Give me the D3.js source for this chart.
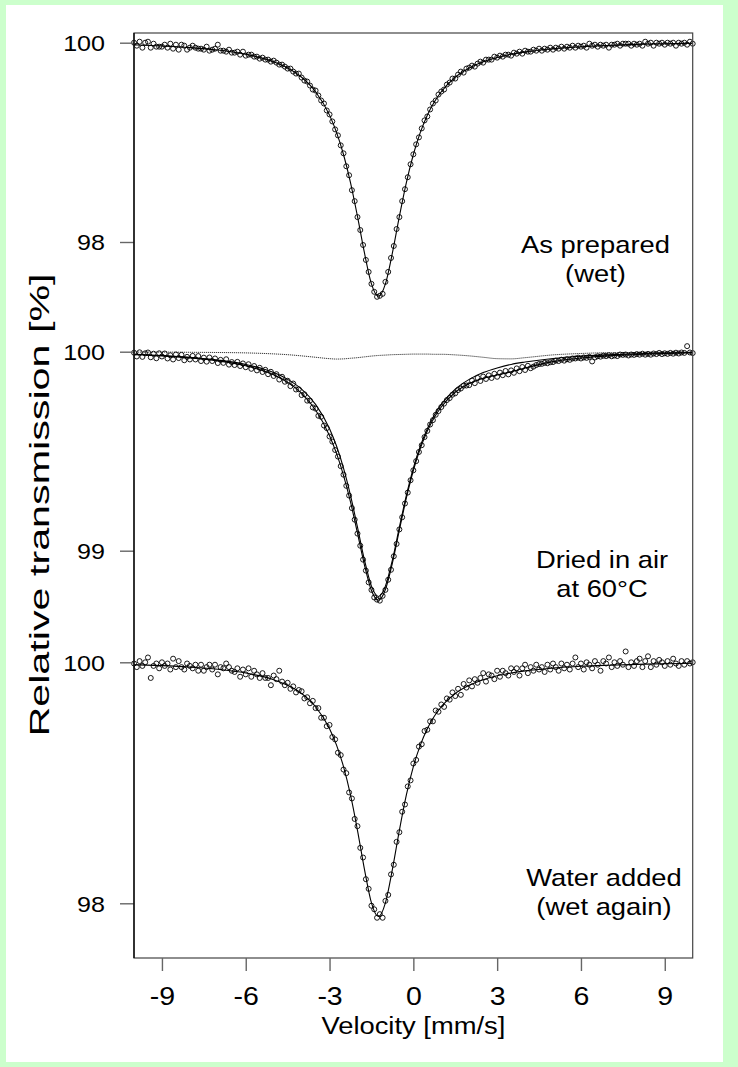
<!DOCTYPE html>
<html>
<head>
<meta charset="utf-8">
<script src="https://cdn.jsdelivr.net/npm/d3@7/dist/d3.min.js"></script>
<style>
  html, body { margin: 0; padding: 0; background: #ccffcc; }
  svg { display: block; }
  text { font-family: "Liberation Sans", Arial, sans-serif; fill: #000; }
</style>
</head>
<body>
<svg id="chart" width="738" height="1067"></svg>
<script>
// ---- Velocity channels (mm/s): -10 ... +10 in 0.1 mm/s steps ----
const velocityStart = -10;
const velocityStep = 0.1;
const channelCount = 201;
const velocity = d3.range(channelCount).map(i => +(velocityStart + i * velocityStep).toFixed(2));

// ---- Measured relative transmission (%) ----
const asPrepared = [
  100.00, 99.97, 100.01, 99.95, 100.00, 100.01, 99.95, 99.99, 99.96, 99.96,
  99.96, 99.98, 99.95, 99.99, 99.94, 99.98, 99.93, 99.98, 99.97, 99.93,
  99.95, 99.97, 99.95, 99.94, 99.94, 99.93, 99.96, 99.92, 99.93, 99.94,
  99.98, 99.92, 99.92, 99.91, 99.93, 99.90, 99.90, 99.91, 99.88, 99.91,
  99.87, 99.88, 99.88, 99.86, 99.86, 99.84, 99.85, 99.83, 99.83, 99.81,
  99.82, 99.80, 99.78, 99.78, 99.76, 99.74, 99.74, 99.71, 99.69, 99.69,
  99.65, 99.62, 99.61, 99.57, 99.53, 99.52, 99.47, 99.42, 99.39, 99.32,
  99.28, 99.21, 99.13, 99.07, 98.97, 98.89, 98.76, 98.67, 98.52, 98.41,
  98.25, 98.12, 97.97, 97.82, 97.70, 97.58, 97.50, 97.45,
  97.46, 97.48, 97.60, 97.70, 97.84, 97.96, 98.13, 98.25, 98.41, 98.53, 98.65, 98.78,
  98.88, 98.98, 99.05, 99.14, 99.22, 99.26, 99.33, 99.39, 99.42, 99.48,
  99.51, 99.53, 99.58, 99.60, 99.64, 99.64, 99.68, 99.71, 99.70, 99.74,
  99.75, 99.77, 99.76, 99.79, 99.81, 99.80, 99.83, 99.83, 99.83, 99.86,
  99.85, 99.87, 99.86, 99.88, 99.88, 99.87, 99.90, 99.89, 99.91, 99.89,
  99.92, 99.91, 99.91, 99.93, 99.92, 99.94, 99.92, 99.94, 99.93, 99.95,
  99.93, 99.95, 99.94, 99.96, 99.94, 99.96, 99.95, 99.97, 99.95, 99.97,
  99.96, 99.97, 99.95, 99.99, 99.97, 99.98, 99.96, 99.98, 99.97, 99.98,
  99.95, 99.98, 99.98, 99.99, 99.97, 99.99, 99.99, 99.99, 99.97, 99.99,
  99.98, 99.99, 99.97, 100.01, 99.99, 100.00, 99.97, 100.00, 99.99, 100.00,
  99.98, 100.00, 99.99, 100.00, 99.97, 100.00, 99.99, 100.00, 99.98, 100.01, 99.99
];

const driedInAir = [
  99.995, 99.976, 99.997, 99.974, 99.992, 99.996, 99.972, 99.990, 99.967, 99.992,
  99.976, 99.991, 99.966, 99.982, 99.961, 99.986, 99.968, 99.984, 99.957, 99.974,
  99.961, 99.979, 99.961, 99.978, 99.953, 99.970, 99.950, 99.971, 99.953, 99.966,
  99.943, 99.959, 99.944, 99.962, 99.935, 99.948, 99.933, 99.949, 99.928, 99.941,
  99.922, 99.937, 99.914, 99.928, 99.906, 99.919, 99.898, 99.909, 99.887, 99.899,
  99.878, 99.887, 99.860, 99.874, 99.849, 99.854, 99.827, 99.840, 99.810, 99.811,
  99.782, 99.786, 99.754, 99.754, 99.720, 99.714, 99.678, 99.673, 99.629, 99.616,
  99.574, 99.548, 99.506, 99.473, 99.425, 99.382, 99.326, 99.277, 99.214, 99.156,
  99.086, 99.025, 98.955, 98.900, 98.841, 98.803, 98.765, 98.754, 98.749, 98.773,
  98.803, 98.854, 98.904, 98.972, 99.034, 99.107, 99.168, 99.237, 99.292, 99.354,
  99.404, 99.450, 99.496, 99.530, 99.571, 99.602, 99.634, 99.656, 99.683, 99.702,
  99.722, 99.739, 99.757, 99.767, 99.784, 99.791, 99.807, 99.815, 99.829, 99.830,
  99.832, 99.855, 99.842, 99.868, 99.853, 99.875, 99.863, 99.881, 99.868, 99.889,
  99.874, 99.895, 99.882, 99.903, 99.886, 99.906, 99.894, 99.916, 99.902, 99.923,
  99.908, 99.929, 99.917, 99.925, 99.933, 99.938, 99.939, 99.944, 99.942, 99.947,
  99.948, 99.955, 99.953, 99.960, 99.955, 99.962, 99.959, 99.966, 99.966, 99.970,
  99.966, 99.971, 99.969, 99.974, 99.951, 99.971, 99.977, 99.975, 99.980, 99.978,
  99.982, 99.977, 99.981, 99.978, 99.986, 99.984, 99.986, 99.981, 99.986, 99.984,
  99.988, 99.985, 99.990, 99.985, 99.989, 99.985, 99.991, 99.988, 99.994, 99.988,
  99.992, 99.989, 99.994, 99.990, 99.995, 99.991, 99.996, 99.994, 100.028, 99.996, 99.993
];

const waterAdded = [
  99.99, 99.96, 100.01, 99.97, 100.00, 100.04, 99.87, 99.97, 99.99, 99.95,
  100.00, 99.97, 99.99, 99.94, 100.03, 99.96, 100.01, 99.96, 99.94, 99.99,
  99.97, 99.95, 99.98, 99.93, 99.98, 99.93, 99.96, 99.98, 99.94, 99.98,
  99.90, 99.96, 99.95, 99.99, 99.96, 99.93, 99.92, 99.95, 99.88, 99.94,
  99.90, 99.95, 99.88, 99.93, 99.90, 99.87, 99.91, 99.87, 99.87, 99.81,
  99.89, 99.86, 99.93, 99.84, 99.81, 99.83, 99.78, 99.80, 99.75, 99.77,
  99.76, 99.70, 99.71, 99.66, 99.68, 99.62, 99.62, 99.54, 99.54, 99.47,
  99.48, 99.38, 99.36, 99.25, 99.23, 99.11, 99.08, 98.92, 98.87, 98.70,
  98.64, 98.46, 98.38, 98.20, 98.12, 97.98, 97.95, 97.88,
  97.91, 97.88, 98.02, 98.07, 98.24, 98.32, 98.51, 98.59, 98.76, 98.82, 98.97, 99.02,
  99.16, 99.19, 99.30, 99.32, 99.43, 99.44, 99.51, 99.51, 99.60, 99.59,
  99.65, 99.63, 99.70, 99.69, 99.75, 99.72, 99.78, 99.73, 99.82, 99.79,
  99.85, 99.80, 99.86, 99.83, 99.87, 99.91, 99.84, 99.90, 99.89, 99.86,
  99.93, 99.88, 99.93, 99.91, 99.89, 99.95, 99.92, 99.95, 99.89, 99.95,
  99.98, 99.91, 99.96, 99.93, 99.98, 99.94, 99.96, 99.92, 99.98, 99.94,
  99.99, 99.96, 99.93, 99.99, 99.95, 99.98, 99.94, 99.99, 100.04, 99.96,
  99.99, 99.94, 100.00, 99.98, 99.95, 100.01, 99.98, 99.93, 100.01, 99.99,
  100.04, 99.96, 100.00, 99.97, 100.01, 99.98, 100.09, 99.96, 100.00, 99.97,
  100.01, 100.03, 99.96, 100.01, 100.05, 99.96, 100.01, 99.98, 100.02, 100.00,
  99.97, 100.01, 99.98, 100.03, 99.99, 99.97, 100.01, 99.98, 100.01, 99.99, 100.00
];

// ---- Fitted curves (%), sampled at these velocities ----
const fitVelocity = [-10, -9, -8, -7, -6, -5, -4.5, -4, -3.5, -3, -2.75, -2.5, -2.25, -2, -1.75, -1.5, -1.25,
  -1, -0.75, -0.5, -0.25, 0, 0.25, 0.5, 0.75, 1, 1.5, 2, 2.5, 3, 3.5, 4, 5, 6, 7, 8, 9, 10];

const asPreparedFit = [99.978, 99.967, 99.951, 99.926, 99.884, 99.809, 99.746, 99.653, 99.508, 99.273, 99.100,
  98.878, 98.596, 98.257, 97.890, 97.580, 97.455, 97.580, 97.890, 98.257, 98.596, 98.878, 99.100, 99.273,
  99.405, 99.508, 99.653, 99.746, 99.809, 99.852, 99.884, 99.908, 99.940, 99.960, 99.973, 99.983, 99.990, 99.995];

const driedTotalFit = [99.985, 99.979, 99.969, 99.954, 99.929, 99.884, 99.846, 99.791, 99.707, 99.578, 99.489,
  99.379, 99.245, 99.088, 98.928, 98.800, 98.751, 98.805, 98.938, 99.104, 99.265, 99.403, 99.514, 99.601,
  99.669, 99.722, 99.796, 99.840, 99.867, 99.883, 99.899, 99.918, 99.950, 99.968, 99.979, 99.986, 99.991, 99.994];

const driedMainSite = [99.987, 99.981, 99.972, 99.958, 99.936, 99.895, 99.861, 99.812, 99.735, 99.613, 99.526,
  99.415, 99.278, 99.118, 98.953, 98.822, 98.770, 98.822, 98.953, 99.118, 99.278, 99.415, 99.526, 99.613,
  99.682, 99.735, 99.812, 99.861, 99.895, 99.918, 99.936, 99.948, 99.966, 99.977, 99.984, 99.990, 99.993, 99.996];

const driedMinorSite = [99.998, 99.998, 99.997, 99.996, 99.994, 99.989, 99.985, 99.979, 99.972, 99.965, 99.963,
  99.964, 99.967, 99.970, 99.974, 99.978, 99.981, 99.983, 99.985, 99.986, 99.987, 99.988, 99.988, 99.988,
  99.987, 99.987, 99.984, 99.979, 99.972, 99.965, 99.964, 99.970, 99.984, 99.991, 99.995, 99.996, 99.997, 99.998];

const waterAddedFit = [99.980, 99.972, 99.960, 99.942, 99.911, 99.856, 99.809, 99.741, 99.631, 99.449, 99.313,
  99.134, 98.899, 98.606, 98.282, 98.004, 97.890, 98.004, 98.282, 98.606, 98.899, 99.134, 99.313, 99.449,
  99.552, 99.631, 99.741, 99.809, 99.856, 99.888, 99.911, 99.929, 99.952, 99.967, 99.976, 99.983, 99.988, 99.992];

// ---- Axis ticks and panel captions ----
const velocityTicks = [-9, -6, -3, 0, 3, 6, 9];
const asPreparedTicks = [98, 100];
const driedTicks = [99, 100];
const waterAddedTicks = [98, 100];
const captions = [["As prepared", "(wet)"], ["Dried in air", "at 60°C"], ["Water added", "(wet again)"]];

// ---- Layout ----
const svg = d3.select("#chart");
const frame = { left: 134, right: 692.7, top: 33, bottom: 958 };
const stretch = 1.14;   // horizontal widening of all lettering
const plainNumber = d => String(d);   // ASCII hyphen for negatives

svg.append("rect").attr("x", 6).attr("y", 5).attr("width", 717).attr("height", 1057).attr("fill", "#fff");

const x = d3.scaleLinear().domain([-10, 10]).range([frame.left, frame.right]);

const panels = [
  { data: asPrepared, fits: [asPreparedFit], ticks: asPreparedTicks, domain: [98, 100], range: [242, 42.7],
    caption: captions[0], capX: 595.5, capY: 253 },
  { data: driedInAir, fits: [driedTotalFit, driedMainSite], minor: driedMinorSite, ticks: driedTicks,
    domain: [99, 100], range: [550.7, 351.7], caption: captions[1], capX: 602, capY: 568 },
  { data: waterAdded, fits: [waterAddedFit], ticks: waterAddedTicks, domain: [98, 100], range: [903.3, 662.3],
    caption: captions[2], capX: 604, capY: 886 }
];

const plot = svg.append("g");

panels.forEach(p => {
  const y = d3.scaleLinear().domain(p.domain).range(p.range);
  const line = d3.line().x(d => x(d[0])).y(d => y(d[1])).curve(d3.curveMonotoneX);

  // minor component drawn as a fine dotted trace near the baseline
  if (p.minor) {
    plot.append("path")
      .datum(fitVelocity.map((v, i) => [v, p.minor[i]]))
      .attr("d", line).attr("fill", "none").attr("stroke", "#222")
      .attr("stroke-width", 0.9).attr("stroke-dasharray", "1.2,0.8");
  }
  p.fits.forEach(f => {
    plot.append("path")
      .datum(fitVelocity.map((v, i) => [v, f[i]]))
      .attr("d", line).attr("fill", "none").attr("stroke", "#000").attr("stroke-width", 1.1);
  });

  plot.append("g").selectAll("circle")
    .data(p.data.map((t, i) => [velocity[i], t]))
    .join("circle")
    .attr("cx", d => x(d[0])).attr("cy", d => y(d[1])).attr("r", 2.5)
    .attr("fill", "none").attr("stroke", "#000").attr("stroke-width", 0.9);

  // y axis for this panel
  const ax = svg.append("g").attr("transform", `translate(${frame.left},0)`)
    .call(d3.axisLeft(y).tickValues(p.ticks).tickSize(14).tickPadding(0).tickFormat(plainNumber));
  ax.select(".domain").remove();
  ax.selectAll(".tick line").attr("stroke", "#666").attr("stroke-width", 1.4);
  ax.selectAll(".tick text")
    .attr("x", 0).attr("dy", "0.36em")
    .attr("transform", `translate(-29,0) scale(${stretch},1)`)
    .attr("font-size", 22).attr("font-family", "Liberation Sans, Arial, sans-serif").attr("fill", "#000");

  // caption
  p.caption.forEach((s, i) => {
    svg.append("text")
      .attr("transform", `translate(${p.capX},${p.capY + i * 28.5}) scale(${stretch},1)`)
      .attr("text-anchor", "middle").attr("font-size", 24).text(s);
  });
});

// frame
svg.append("rect")
  .attr("x", frame.left).attr("y", frame.top)
  .attr("width", frame.right - frame.left).attr("height", frame.bottom - frame.top)
  .attr("fill", "none").attr("stroke", "#444").attr("stroke-width", 1.2);
svg.append("line")
  .attr("x1", frame.left).attr("x2", frame.left).attr("y1", frame.top).attr("y2", frame.bottom)
  .attr("stroke", "#000").attr("stroke-width", 1.3);

// x axis
const xa = svg.append("g").attr("transform", `translate(0,${frame.bottom})`)
  .call(d3.axisBottom(x).tickValues(velocityTicks).tickSize(13).tickFormat(plainNumber));
xa.select(".domain").remove();
xa.selectAll(".tick line").attr("stroke", "#666").attr("stroke-width", 1.4);
xa.selectAll(".tick text")
  .attr("y", 0).attr("dy", 0)
  .attr("transform", `translate(0,47) scale(${stretch},1)`)
  .attr("font-size", 25).attr("font-family", "Liberation Sans, Arial, sans-serif").attr("fill", "#000");

// axis titles
svg.append("text")
  .attr("transform", `translate(413.4,1034) scale(${stretch},1)`)
  .attr("text-anchor", "middle").attr("font-size", 24).text("Velocity [mm/s]");
svg.append("text")
  .attr("transform", "translate(49,505) rotate(-90) scale(1.72,1.14)")
  .attr("text-anchor", "middle").attr("font-size", 24).text("Relative transmission [%]");
</script>
</body>
</html>
